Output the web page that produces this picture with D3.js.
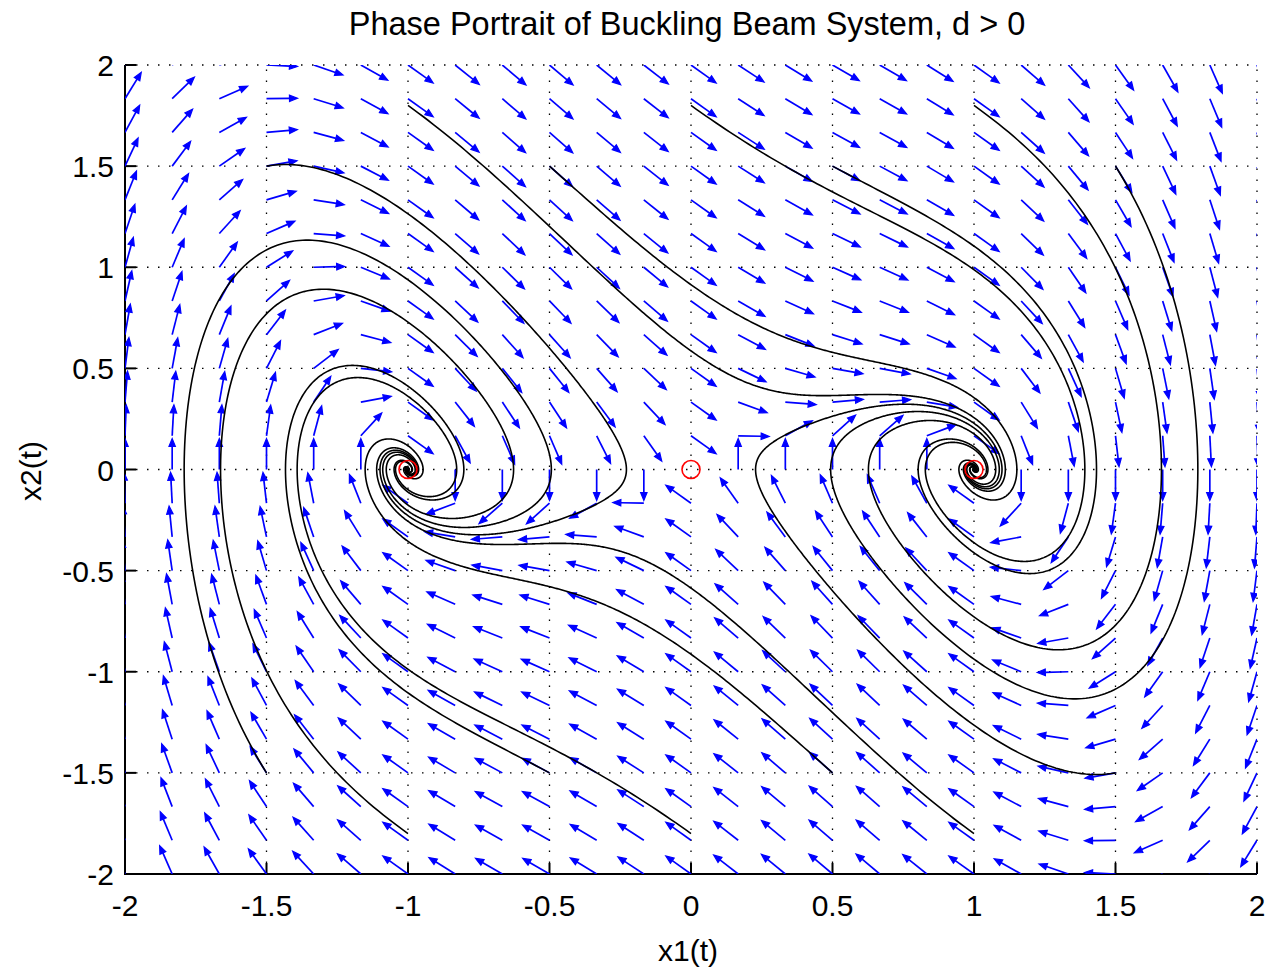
<!DOCTYPE html>
<html lang="en">
<meta charset="utf-8">
<head>
	<title>Phase Portrait of Buckling Beam System</title>
</head>

<style type="text/css">
	body {
		margin: 0;
		background: white;
	}

	.tickLabel, .axisLabel, .chartTitle {
		font-family: 'Liberation Sans', Arial, sans-serif;
		font-size: 30px;
		fill: black;
	}

	.chartTitle {
		font-size: 32.5px;
	}

	.gridLine {
		stroke: black;
		stroke-width: 1.3;
		stroke-dasharray: 1.5, 9.5;
	}

	.axisLine {
		stroke: black;
		stroke-width: 2;
		fill: none;
	}

	.arrow {
		stroke: rgb(0,0,255);
		stroke-width: 1.7;
		fill: none;
	}

	.arrowHead {
		stroke: rgb(0,0,255);
		stroke-width: 1.2;
		fill: rgb(0,0,255);
	}

	.trajectory {
		stroke: black;
		stroke-width: 1.6;
		fill: none;
	}

	.equilibrium {
		stroke: rgb(255,0,0);
		stroke-width: 1.6;
		fill: none;
	}
</style>

<script src="https://d3js.org/d3.v7.min.js"></script>

<body>
	<script type="text/javascript">

		// system: x1' = x2, x2' = -d*x2 + x1 - x1^3
		var damping = 1;

		var xTicks = [-2, -1.5, -1, -0.5, 0, 0.5, 1, 1.5, 2],
			yTicks = [-2, -1.5, -1, -0.5, 0, 0.5, 1, 1.5, 2];

		// quiver grid (step 1/6)
		var quiverX = [-2, -1.8333, -1.6667, -1.5, -1.3333, -1.1667, -1, -0.8333, -0.6667, -0.5, -0.3333, -0.1667, 0,
					   0.1667, 0.3333, 0.5, 0.6667, 0.8333, 1, 1.1667, 1.3333, 1.5, 1.6667, 1.8333, 2],
			quiverY = [-2, -1.8333, -1.6667, -1.5, -1.3333, -1.1667, -1, -0.8333, -0.6667, -0.5, -0.3333, -0.1667, 0,
					   0.1667, 0.3333, 0.5, 0.6667, 0.8333, 1, 1.1667, 1.3333, 1.5, 1.6667, 1.8333, 2];

		// trajectory starting points
		var startX = [-1.5, -1, -0.5, 0, 0.5, 1, 1.5, -1.5, -1, -0.5, 0, 0.5, 1, 1.5],
			startY = [1.5, 1.8, 1.5, 1.8, 1.5, 1.8, 1.5, -1.5, -1.8, -1.5, -1.8, -1.5, -1.8, -1.5];

		var equilibriaX = [-1, 0, 1],
			equilibriaY = [0, 0, 0];

		var canvasWidth = 1271,
			canvasHeight = 972,
			plotLeft = 125,
			plotRight = 1257,
			plotTop = 65,
			plotBottom = 874;

		var svg = d3.select("body")
					.append("svg")
					.attr("width", canvasWidth)
					.attr("height", canvasHeight);

		var x = d3.scaleLinear().domain([-2, 2]).range([plotLeft, plotRight]),
			y = d3.scaleLinear().domain([-2, 2]).range([plotBottom, plotTop]);

		svg.append("defs")
		   .append("clipPath")
		   .attr("id", "plotClip")
		   .append("rect")
		   .attr("x", plotLeft)
		   .attr("y", plotTop)
		   .attr("width", plotRight - plotLeft)
		   .attr("height", plotBottom - plotTop);

		// grid
		svg.selectAll(".gridX")
		   .data(xTicks.filter(function(d) { return d > -2; }))
		   .enter()
		   .append("line")
		   .attr("class", "gridLine")
		   .attr("x1", function(d) { return x(d); })
		   .attr("x2", function(d) { return x(d); })
		   .attr("y1", plotBottom)
		   .attr("y2", plotTop);

		svg.selectAll(".gridY")
		   .data(yTicks.filter(function(d) { return d > -2; }))
		   .enter()
		   .append("line")
		   .attr("class", "gridLine")
		   .attr("x1", plotLeft)
		   .attr("x2", plotRight)
		   .attr("y1", function(d) { return y(d); })
		   .attr("y2", function(d) { return y(d); });

		// axes (box off: left and bottom only)
		svg.append("path")
		   .attr("class", "axisLine")
		   .attr("d", "M" + plotLeft + "," + plotTop + "V" + plotBottom + "H" + plotRight);

		svg.selectAll(".tickX")
		   .data(xTicks)
		   .enter()
		   .append("line")
		   .attr("class", "axisLine")
		   .attr("x1", function(d) { return x(d); })
		   .attr("x2", function(d) { return x(d); })
		   .attr("y1", plotBottom)
		   .attr("y2", plotBottom - 11);

		svg.selectAll(".tickY")
		   .data(yTicks)
		   .enter()
		   .append("line")
		   .attr("class", "axisLine")
		   .attr("x1", plotLeft)
		   .attr("x2", plotLeft + 11)
		   .attr("y1", function(d) { return y(d); })
		   .attr("y2", function(d) { return y(d); });

		svg.selectAll(".xLabel")
		   .data(xTicks)
		   .enter()
		   .append("text")
		   .attr("class", "tickLabel")
		   .attr("text-anchor", "middle")
		   .attr("x", function(d) { return x(d); })
		   .attr("y", plotBottom + 42)
		   .text(function(d) { return String(d); });

		svg.selectAll(".yLabel")
		   .data(yTicks)
		   .enter()
		   .append("text")
		   .attr("class", "tickLabel")
		   .attr("text-anchor", "end")
		   .attr("x", plotLeft - 11)
		   .attr("y", function(d) { return y(d) + 11; })
		   .text(function(d) { return String(d); });

		var plot = svg.append("g").attr("clip-path", "url(#plotClip)");

		function field(p) {
			return [p[1], -damping * p[1] + p[0] - p[0] * p[0] * p[0]];
		}

		// quiver: unit directions, fixed on-screen length, tail at grid point
		var arrowLen = 31,
			headBack = 8,
			headHalf = 3.2;
		var shafts = [], heads = [];
		quiverX.forEach(function(qx) {
			quiverY.forEach(function(qy) {
				var v = field([qx, qy]);
				var px = v[0] * (x(1) - x(0)),
					py = v[1] * (y(1) - y(0));
				var n = Math.sqrt(px * px + py * py);
				if (n === 0) return;
				var ux = px / n, uy = py / n;
				var x0 = x(qx), y0 = y(qy),
					x1 = x0 + ux * arrowLen, y1 = y0 + uy * arrowLen;
				var bx = x1 - ux * headBack, by = y1 - uy * headBack;
				shafts.push("M" + x0 + "," + y0 + "L" + bx + "," + by);
				heads.push("M" + (bx - uy * headHalf) + "," + (by + ux * headHalf) +
						   "L" + x1 + "," + y1 +
						   "L" + (bx + uy * headHalf) + "," + (by - ux * headHalf) + "Z");
			});
		});

		plot.selectAll(".arrow")
			.data(shafts)
			.enter()
			.append("path")
			.attr("class", "arrow")
			.attr("d", function(d) { return d; });

		plot.selectAll(".arrowHead")
			.data(heads)
			.enter()
			.append("path")
			.attr("class", "arrowHead")
			.attr("d", function(d) { return d; });

		// trajectories via RK4
		function integrate(p0) {
			var pts = [p0], p = p0, dt = 0.01;
			for (var i = 0; i < 4000; i++) {
				var k1 = field(p),
					k2 = field([p[0] + dt / 2 * k1[0], p[1] + dt / 2 * k1[1]]),
					k3 = field([p[0] + dt / 2 * k2[0], p[1] + dt / 2 * k2[1]]),
					k4 = field([p[0] + dt * k3[0], p[1] + dt * k3[1]]);
				p = [p[0] + dt / 6 * (k1[0] + 2 * k2[0] + 2 * k3[0] + k4[0]),
					 p[1] + dt / 6 * (k1[1] + 2 * k2[1] + 2 * k3[1] + k4[1])];
				pts.push(p);
				if (Math.abs(p[0]) > 5 || Math.abs(p[1]) > 5) break;
			}
			return pts;
		}

		var line = d3.line()
					 .x(function(d) { return x(d[0]); })
					 .y(function(d) { return y(d[1]); });

		plot.selectAll(".trajectory")
			.data(startX.map(function(sx, i) { return integrate([sx, startY[i]]); }))
			.enter()
			.append("path")
			.attr("class", "trajectory")
			.attr("d", line);

		plot.selectAll(".equilibrium")
			.data(equilibriaX)
			.enter()
			.append("circle")
			.attr("class", "equilibrium")
			.attr("cx", function(d) { return x(d); })
			.attr("cy", function(d, i) { return y(equilibriaY[i]); })
			.attr("r", 9);

		// labels
		svg.append("text")
		   .attr("class", "chartTitle")
		   .attr("text-anchor", "middle")
		   .attr("x", 687)
		   .attr("y", 35)
		   .text("Phase Portrait of Buckling Beam System, d > 0");

		svg.append("text")
		   .attr("class", "axisLabel")
		   .attr("text-anchor", "middle")
		   .attr("x", 688)
		   .attr("y", 961)
		   .text("x1(t)");

		svg.append("text")
		   .attr("class", "axisLabel")
		   .attr("text-anchor", "middle")
		   .attr("transform", "translate(41," + 471 + ")rotate(-90)")
		   .text("x2(t)");

	</script>
</body>
</html>
